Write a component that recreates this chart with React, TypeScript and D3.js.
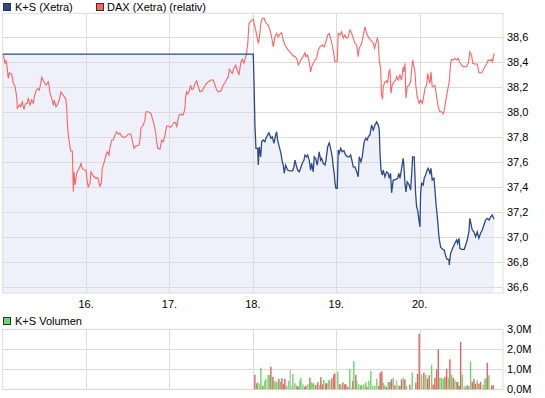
import React from "react";
import * as d3 from "d3";

// ---- data ----
const seriesNames = ["K+S (Xetra)", "DAX (Xetra) (relativ)"];
const volumeName = "K+S Volumen";
const dayTicks = [16, 17, 18, 19, 20];
const priceTicks = [36.6, 36.8, 37.0, 37.2, 37.4, 37.6, 37.8, 38.0, 38.2, 38.4, 38.6];
const volumeTicks = [0, 1, 2, 3];

// DAX relative: [day, value]
const daxSeries: [number, number][] = [
  [15.007, 38.458], [15.028, 38.392], [15.04, 38.412], [15.048, 38.392], [15.067, 38.272], [15.079, 38.316],
  [15.108, 38.306], [15.127, 38.232], [15.147, 38.21], [15.168, 38.124], [15.175, 38.032], [15.199, 38.058],
  [15.216, 38.044], [15.235, 38.084], [15.255, 38.024], [15.271, 38.066], [15.295, 38.072], [15.307, 38.116],
  [15.327, 38.058], [15.348, 38.098], [15.367, 38.072], [15.379, 38.124], [15.399, 38.172], [15.42, 38.192],
  [15.439, 38.178], [15.456, 38.232], [15.468, 38.28], [15.495, 38.244], [15.519, 38.218], [15.547, 38.244],
  [15.559, 38.204], [15.567, 38.152], [15.588, 38.112], [15.607, 38.058], [15.619, 38.098], [15.639, 38.044],
  [15.655, 38.058], [15.679, 38.098], [15.699, 38.164], [15.719, 38.144], [15.739, 38.124], [15.755, 38.112],
  [15.767, 38.044], [15.775, 37.912], [15.787, 37.818], [15.807, 37.724], [15.815, 37.69], [15.835, 37.69],
  [15.847, 37.364], [15.855, 37.524], [15.867, 37.418], [15.887, 37.512], [15.906, 37.538], [15.927, 37.564],
  [15.939, 37.592], [15.954, 37.552], [15.975, 37.538], [15.999, 37.538], [16.014, 37.444], [16.026, 37.404],
  [16.047, 37.432], [16.059, 37.524], [16.086, 37.49], [16.119, 37.472], [16.139, 37.476], [16.167, 37.41],
  [16.182, 37.432], [16.194, 37.552], [16.215, 37.596], [16.239, 37.658], [16.254, 37.684], [16.275, 37.658],
  [16.287, 37.724], [16.307, 37.778], [16.326, 37.778], [16.347, 37.818], [16.367, 37.844], [16.386, 37.826],
  [16.406, 37.832], [16.427, 37.81], [16.446, 37.8], [16.478, 37.804], [16.506, 37.826], [16.535, 37.826],
  [16.554, 37.778], [16.574, 37.712], [16.598, 37.73], [16.634, 37.738], [16.646, 37.778], [16.658, 37.872],
  [16.686, 37.898], [16.706, 37.938], [16.718, 38.004], [16.746, 38.004], [16.778, 37.992], [16.794, 37.952],
  [16.818, 37.898], [16.835, 37.832], [16.847, 37.764], [16.859, 37.712], [16.886, 37.704], [16.906, 37.778],
  [16.926, 37.764], [16.946, 37.818], [16.966, 37.89], [16.986, 37.89], [17.014, 37.88], [17.034, 37.898],
  [17.054, 37.92], [17.074, 37.916], [17.086, 37.88], [17.098, 37.924], [17.114, 37.978], [17.134, 37.986],
  [17.165, 37.978], [17.186, 38.032], [17.194, 38.124], [17.206, 38.164], [17.218, 38.146], [17.234, 38.164],
  [17.254, 38.218], [17.266, 38.184], [17.285, 38.184], [17.306, 38.232], [17.326, 38.252], [17.345, 38.204],
  [17.366, 38.164], [17.393, 38.172], [17.417, 38.204], [17.438, 38.226], [17.465, 38.244], [17.498, 38.258],
  [17.525, 38.258], [17.546, 38.218], [17.566, 38.178], [17.585, 38.164], [17.617, 38.17], [17.645, 38.218],
  [17.665, 38.236], [17.686, 38.264], [17.705, 38.284], [17.717, 38.344], [17.737, 38.324], [17.753, 38.312],
  [17.773, 38.352], [17.794, 38.378], [17.813, 38.338], [17.833, 38.298], [17.845, 38.352], [17.857, 38.404],
  [17.873, 38.424], [17.893, 38.392], [17.914, 38.444], [17.926, 38.472], [17.933, 38.524], [17.938, 38.538],
  [17.954, 38.712], [17.977, 38.732], [18.005, 38.744], [18.025, 38.684], [18.046, 38.618], [18.065, 38.552],
  [18.077, 38.592], [18.097, 38.712], [18.113, 38.752], [18.137, 38.752], [18.153, 38.716], [18.185, 38.698],
  [18.205, 38.658], [18.225, 38.604], [18.245, 38.524], [18.265, 38.604], [18.285, 38.632], [18.305, 38.604],
  [18.325, 38.626], [18.345, 38.636], [18.364, 38.578], [18.385, 38.538], [18.417, 38.504], [18.445, 38.484],
  [18.472, 38.458], [18.505, 38.444], [18.525, 38.432], [18.545, 38.378], [18.565, 38.404], [18.585, 38.432],
  [18.604, 38.444], [18.625, 38.476], [18.637, 38.444], [18.657, 38.458], [18.676, 38.404], [18.693, 38.324],
  [18.705, 38.364], [18.724, 38.392], [18.745, 38.418], [18.765, 38.432], [18.784, 38.498], [18.805, 38.524],
  [18.832, 38.538], [18.856, 38.524], [18.877, 38.564], [18.897, 38.618], [18.916, 38.632], [18.937, 38.578],
  [18.952, 38.538], [18.964, 38.498], [18.984, 38.404], [19.012, 38.404], [19.024, 38.632], [19.044, 38.618],
  [19.065, 38.644], [19.084, 38.592], [19.104, 38.618], [19.125, 38.592], [19.144, 38.604], [19.164, 38.658],
  [19.185, 38.632], [19.204, 38.592], [19.224, 38.552], [19.245, 38.538], [19.264, 38.444], [19.276, 38.512],
  [19.305, 38.552], [19.324, 38.618], [19.344, 38.684], [19.365, 38.632], [19.384, 38.604], [19.404, 38.584],
  [19.424, 38.572], [19.444, 38.552], [19.46, 38.512], [19.476, 38.552], [19.492, 38.592], [19.504, 38.564],
  [19.516, 38.418], [19.532, 38.352], [19.544, 38.138], [19.556, 38.104], [19.564, 38.204], [19.584, 38.244],
  [19.604, 38.252], [19.616, 38.232], [19.632, 38.324], [19.644, 38.338], [19.656, 38.152], [19.671, 38.218],
  [19.692, 38.244], [19.712, 38.258], [19.724, 38.284], [19.743, 38.258], [19.764, 38.298], [19.784, 38.258],
  [19.803, 38.364], [19.815, 38.324], [19.824, 38.392], [19.836, 38.112], [19.851, 38.204], [19.875, 38.218],
  [19.892, 38.244], [19.904, 38.338], [19.916, 38.418], [19.932, 38.364], [19.944, 38.324], [19.956, 38.204],
  [19.971, 38.124], [19.995, 38.072], [20.012, 38.098], [20.031, 38.072], [20.043, 38.104], [20.064, 38.192],
  [20.084, 38.218], [20.096, 38.312], [20.112, 38.258], [20.124, 38.232], [20.136, 38.324], [20.151, 38.204],
  [20.163, 38.204], [20.184, 38.218], [20.204, 38.124], [20.223, 38.044], [20.243, 38.004], [20.264, 38.004],
  [20.283, 37.986], [20.295, 38.018], [20.316, 38.104], [20.336, 38.178], [20.355, 38.244], [20.372, 38.392],
  [20.384, 38.424], [20.403, 38.418], [20.423, 38.432], [20.444, 38.418], [20.463, 38.432], [20.484, 38.396],
  [20.504, 38.378], [20.523, 38.364], [20.564, 38.364], [20.583, 38.392], [20.603, 38.484], [20.624, 38.458],
  [20.636, 38.392], [20.663, 38.386], [20.691, 38.386], [20.711, 38.316], [20.743, 38.316], [20.763, 38.338],
  [20.783, 38.364], [20.803, 38.386], [20.823, 38.418], [20.843, 38.412], [20.863, 38.424], [20.875, 38.404],
  [20.894, 38.472],
];

// K+S (Xetra): [day, price]
const ksSeries: [number, number][] = [
  [15.0, 38.466], [18.005, 38.466], [18.013, 38.272], [18.025, 37.898], [18.037, 37.712], [18.058, 37.712],
  [18.065, 37.578], [18.077, 37.724], [18.094, 37.644], [18.106, 37.764], [18.125, 37.778], [18.145, 37.764],
  [18.157, 37.792], [18.177, 37.818], [18.193, 37.836], [18.217, 37.792], [18.233, 37.804], [18.253, 37.752],
  [18.273, 37.818], [18.285, 37.844], [18.297, 37.778], [18.317, 37.724], [18.337, 37.672], [18.353, 37.604],
  [18.365, 37.578], [18.376, 37.512], [18.393, 37.578], [18.417, 37.538], [18.445, 37.532], [18.477, 37.532],
  [18.493, 37.564], [18.505, 37.618], [18.525, 37.564], [18.537, 37.538], [18.556, 37.524], [18.573, 37.552],
  [18.592, 37.592], [18.613, 37.618], [18.625, 37.658], [18.645, 37.644], [18.657, 37.658], [18.676, 37.618],
  [18.693, 37.538], [18.705, 37.592], [18.724, 37.524], [18.736, 37.644], [18.753, 37.632], [18.772, 37.578],
  [18.784, 37.632], [18.796, 37.684], [18.813, 37.618], [18.825, 37.632], [18.844, 37.592], [18.865, 37.578],
  [18.877, 37.618], [18.897, 37.724], [18.916, 37.756], [18.937, 37.698], [18.952, 37.644], [18.964, 37.564],
  [18.976, 37.512], [18.984, 37.444], [18.996, 37.392], [19.012, 37.392], [19.024, 37.698], [19.036, 37.672],
  [19.053, 37.712], [19.072, 37.684], [19.092, 37.692], [19.113, 37.658], [19.137, 37.644], [19.156, 37.644],
  [19.173, 37.658], [19.192, 37.604], [19.204, 37.564], [19.224, 37.564], [19.245, 37.524], [19.264, 37.484],
  [19.276, 37.644], [19.296, 37.604], [19.312, 37.644], [19.324, 37.712], [19.336, 37.764], [19.353, 37.792],
  [19.372, 37.778], [19.384, 37.804], [19.404, 37.818], [19.424, 37.898], [19.444, 37.858], [19.464, 37.898],
  [19.484, 37.924], [19.504, 37.898], [19.516, 37.858], [19.525, 37.672], [19.537, 37.538], [19.552, 37.498],
  [19.564, 37.538], [19.584, 37.484], [19.604, 37.524], [19.624, 37.512], [19.636, 37.472], [19.652, 37.512],
  [19.664, 37.356], [19.683, 37.458], [19.716, 37.464], [19.736, 37.472], [19.751, 37.512], [19.764, 37.472],
  [19.784, 37.552], [19.803, 37.632], [19.812, 37.564], [19.824, 37.432], [19.836, 37.364], [19.851, 37.444],
  [19.875, 37.418], [19.892, 37.378], [19.904, 37.498], [19.916, 37.644], [19.935, 37.644], [19.952, 37.352],
  [19.964, 37.244], [19.976, 37.218], [19.992, 37.138], [20.004, 37.084], [20.012, 37.352], [20.024, 37.432],
  [20.043, 37.418], [20.055, 37.472], [20.072, 37.498], [20.091, 37.538], [20.103, 37.552], [20.124, 37.512],
  [20.136, 37.552], [20.151, 37.458], [20.172, 37.472], [20.184, 37.378], [20.196, 37.272], [20.216, 37.138],
  [20.232, 37.004], [20.252, 36.92], [20.276, 36.904], [20.295, 36.898], [20.316, 36.844], [20.331, 36.824],
  [20.351, 36.824], [20.355, 36.778], [20.372, 36.872], [20.384, 36.892], [20.403, 36.924], [20.423, 36.952],
  [20.444, 36.978], [20.456, 36.952], [20.472, 36.992], [20.484, 36.912], [20.504, 36.904], [20.535, 36.904],
  [20.552, 36.938], [20.571, 36.978], [20.591, 37.044], [20.603, 37.152], [20.615, 37.112], [20.631, 37.058],
  [20.651, 37.044], [20.671, 37.004], [20.691, 37.044], [20.711, 36.992], [20.731, 37.032], [20.751, 37.058],
  [20.771, 37.098], [20.791, 37.138], [20.811, 37.152], [20.833, 37.138], [20.852, 37.164], [20.871, 37.178],
  [20.892, 37.144],
];

// volume in millions: [day, volume, direction] (u = up, d = down, n = unchanged)
const volumeSeries: [number, number, string][] = [
  [18.024, 0.72, "d"], [18.048, 0.3, "d"], [18.06, 0.35, "u"], [18.084, 0.25, "u"], [18.096, 1.08, "u"],
  [18.12, 0.18, "d"], [18.144, 0.42, "u"], [18.156, 0.52, "u"], [18.184, 0.72, "u"], [18.196, 0.72, "u"],
  [18.216, 1.13, "d"], [18.24, 0.62, "d"], [18.255, 0.42, "u"], [18.276, 0.38, "u"], [18.288, 0.38, "u"],
  [18.312, 0.52, "d"], [18.332, 0.38, "u"], [18.348, 0.55, "d"], [18.368, 0.25, "d"], [18.384, 0.52, "d"],
  [18.408, 0.18, "u"], [18.432, 0.42, "u"], [18.448, 0.97, "n"], [18.468, 0.18, "n"], [18.48, 0.77, "u"],
  [18.504, 0.3, "u"], [18.528, 0.18, "d"], [18.544, 0.13, "d"], [18.564, 0.42, "u"], [18.576, 0.58, "u"],
  [18.6, 0.25, "u"], [18.624, 0.13, "d"], [18.636, 0.18, "d"], [18.66, 0.25, "u"], [18.684, 0.58, "d"],
  [18.7, 0.35, "u"], [18.719, 0.3, "u"], [18.731, 0.3, "u"], [18.755, 0.22, "d"], [18.779, 0.35, "d"],
  [18.803, 0.18, "u"], [18.815, 0.6, "d"], [18.836, 0.25, "d"], [18.851, 0.47, "u"], [18.875, 0.3, "d"],
  [18.887, 0.3, "d"], [18.911, 0.47, "u"], [18.923, 0.42, "u"], [18.947, 0.55, "d"], [18.971, 0.72, "d"],
  [18.983, 0.8, "d"], [19.019, 0.88, "u"], [19.043, 0.27, "d"], [19.055, 0.22, "u"], [19.079, 0.35, "d"],
  [19.103, 0.25, "d"], [19.115, 0.25, "d"], [19.139, 0.13, "d"], [19.163, 1.02, "u"], [19.175, 0.13, "n"],
  [19.199, 0.42, "d"], [19.211, 1.42, "u"], [19.235, 0.72, "d"], [19.247, 0.42, "u"], [19.271, 0.25, "u"],
  [19.295, 0.18, "d"], [19.307, 0.22, "u"], [19.331, 0.25, "u"], [19.355, 0.35, "u"], [19.367, 0.13, "d"],
  [19.391, 0.42, "u"], [19.415, 0.92, "u"], [19.439, 0.17, "u"], [19.463, 0.17, "u"], [19.487, 0.53, "u"],
  [19.511, 0.17, "d"], [19.527, 0.83, "d"], [19.547, 0.9, "d"], [19.567, 0.33, "u"], [19.583, 0.2, "u"],
  [19.603, 0.12, "d"], [19.623, 0.37, "u"], [19.643, 0.37, "d"], [19.663, 0.5, "d"], [19.683, 0.57, "u"],
  [19.703, 0.2, "d"], [19.723, 0.45, "n"], [19.743, 0.2, "u"], [19.763, 0.17, "d"], [19.783, 0.5, "d"],
  [19.803, 0.57, "u"], [19.823, 0.5, "d"], [19.843, 0.17, "u"], [19.883, 0.23, "d"], [19.911, 0.83, "u"],
  [19.955, 0.33, "d"], [19.975, 0.78, "d"], [19.995, 2.78, "d"], [20.024, 0.73, "u"], [20.051, 0.83, "d"],
  [20.075, 0.73, "u"], [20.096, 0.53, "d"], [20.115, 0.7, "d"], [20.144, 1.23, "u"], [20.163, 0.23, "d"],
  [20.183, 0.57, "d"], [20.204, 1.0, "d"], [20.224, 2.0, "d"], [20.244, 0.57, "u"], [20.264, 0.57, "u"],
  [20.283, 0.53, "u"], [20.304, 0.62, "d"], [20.324, 1.03, "d"], [20.343, 0.57, "u"], [20.363, 1.5, "d"],
  [20.384, 0.73, "u"], [20.403, 0.57, "d"], [20.423, 0.45, "u"], [20.444, 0.37, "u"], [20.456, 0.37, "d"],
  [20.475, 0.17, "d"], [20.492, 2.37, "d"], [20.511, 0.73, "u"], [20.535, 0.17, "n"], [20.552, 0.12, "u"],
  [20.571, 0.2, "d"], [20.591, 0.17, "u"], [20.611, 1.4, "u"], [20.631, 0.37, "d"], [20.651, 0.53, "d"],
  [20.671, 0.28, "d"], [20.691, 0.45, "u"], [20.711, 0.28, "d"], [20.731, 0.37, "d"], [20.762, 0.23, "u"],
  [20.783, 0.53, "u"], [20.795, 0.53, "u"], [20.811, 1.33, "d"], [20.831, 0.7, "u"], [20.863, 0.2, "d"],
  [20.883, 0.2, "d"],
];

// ---- styles ----
const FONT = "'Liberation Sans', Arial, sans-serif";
const BLUE = "#2c4a87";
const RED = "#ff6363";
const FILL = "#eef1fa";
const GRID = "#dcdcdc";
const VOL_UP = "#66d966";
const VOL_DOWN = "#e06262";
const VOL_NONE = "#bdbdbd";

const comma = (v: number) => d3.format(".1f")(v).replace(".", ",");

export default function App() {
  const left = 2.7;
  const right = 503;
  const mainTop = 13.3;
  const mainBottom = 293;
  const volTop = 329.3;
  const volBottom = 389.3;

  const x = d3.scaleLinear().domain([15, 21]).range([left, right]);
  const y = d3.scaleLinear().domain([36.6, 38.6]).range([287.3, 37.3]);
  const yv = d3.scaleLinear().domain([0, 3]).range([volBottom, volTop]);

  const line = d3
    .line<[number, number]>()
    .x((d) => x(d[0]))
    .y((d) => y(d[1]));
  const area = d3
    .area<[number, number]>()
    .x((d) => x(d[0]))
    .y0(mainBottom)
    .y1((d) => y(d[1]));

  const volColor = (c: string) => (c === "u" ? VOL_UP : c === "d" ? VOL_DOWN : VOL_NONE);

  return (
    <svg
      width={545}
      height={398}
      style={{ position: "absolute", left: 0, top: 0, background: "#fff" }}
      fontFamily={FONT}
    >
      {/* legend */}
      <rect x={3.5} y={3.5} width={7} height={7} fill={BLUE} stroke="#333" strokeWidth={1} />
      <text x={15} y={11} fontSize={11} fill="#000">{seriesNames[0]}</text>
      <rect x={96.5} y={3.5} width={7} height={7} fill={RED} stroke="#333" strokeWidth={1} />
      <text x={107} y={11} fontSize={11} fill="#000">{seriesNames[1]}</text>

      {/* main panel */}
      <path d={area(ksSeries) ?? ""} fill={FILL} />
      {priceTicks.map((t) => (
        <line key={"h" + t} x1={left} x2={right} y1={Math.round(y(t)) + 0.5} y2={Math.round(y(t)) + 0.5} stroke={GRID} />
      ))}
      {dayTicks.map((d) => (
        <line key={"v" + d} x1={Math.round(x(d)) + 0.5} x2={Math.round(x(d)) + 0.5} y1={mainTop} y2={mainBottom} stroke={GRID} />
      ))}
      <rect x={left} y={mainTop} width={right - left} height={mainBottom - mainTop} fill="none" stroke={GRID} />
      <path d={line(daxSeries) ?? ""} fill="none" stroke={RED} strokeWidth={1.1} />
      <path d={line(ksSeries) ?? ""} fill="none" stroke={BLUE} strokeWidth={1.3} />
      {priceTicks.map((t) => (
        <text key={"yl" + t} x={507} y={y(t)} dy="0.36em" fontSize={11} fill="#000">
          {comma(t)}
        </text>
      ))}
      {dayTicks.map((d) => (
        <text key={"xl" + d} x={x(d)} y={308} fontSize={11} textAnchor="middle" fill="#000">
          {d + "."}
        </text>
      ))}

      {/* volume panel */}
      <rect x={3.5} y={317.5} width={7} height={7} fill={VOL_UP} stroke="#333" strokeWidth={1} />
      <text x={15} y={325} fontSize={11} fill="#000">{volumeName}</text>
      {volumeTicks.map((t) => (
        <line key={"vh" + t} x1={left} x2={right} y1={Math.round(yv(t)) + 0.5} y2={Math.round(yv(t)) + 0.5} stroke={GRID} />
      ))}
      {dayTicks.map((d) => (
        <line key={"vv" + d} x1={Math.round(x(d)) + 0.5} x2={Math.round(x(d)) + 0.5} y1={volTop} y2={volBottom} stroke={GRID} />
      ))}
      <rect x={left} y={volTop} width={right - left} height={volBottom - volTop} fill="none" stroke={GRID} />
      {volumeSeries.map((v, i) => (
        <rect
          key={"b" + i}
          x={x(v[0]) - 0.7}
          y={yv(v[1])}
          width={1.4}
          height={yv(0) - yv(v[1])}
          fill={volColor(v[2])}
        />
      ))}
      {volumeTicks.map((t) => (
        <text key={"vl" + t} x={507} y={yv(t)} dy="0.36em" fontSize={11} fill="#000">
          {comma(t) + "M"}
        </text>
      ))}
    </svg>
  );
}
